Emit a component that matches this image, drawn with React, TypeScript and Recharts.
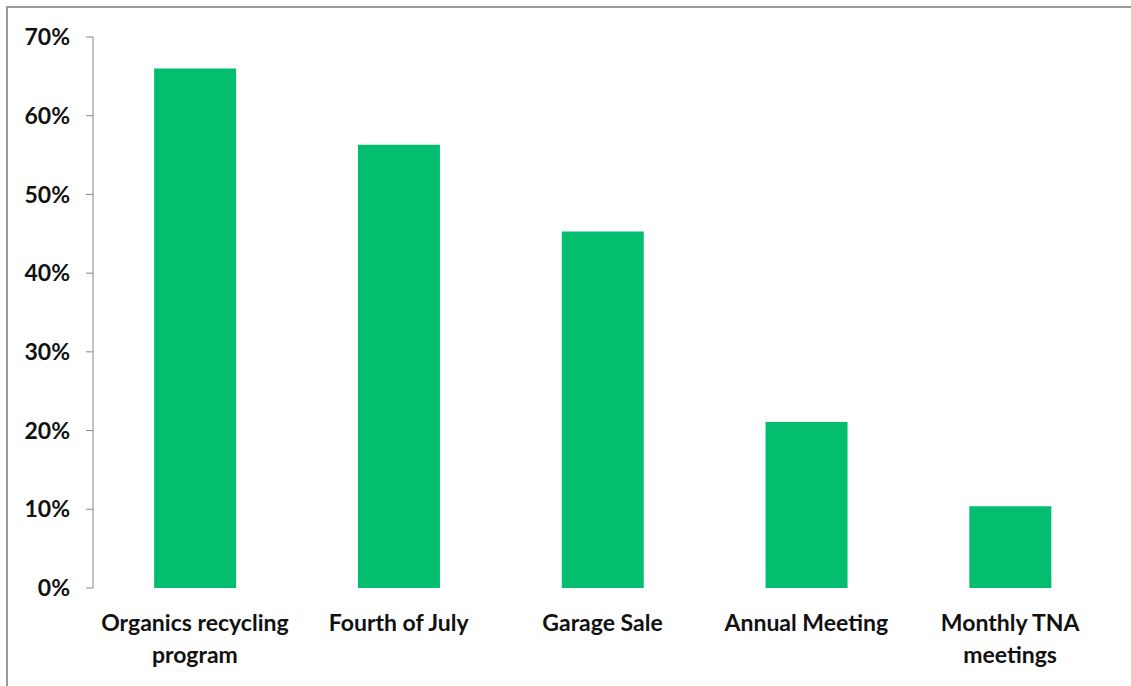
import React from 'react';
import { BarChart, Bar, XAxis, YAxis } from 'recharts';

const categories = [
  'Organics recycling\nprogram',
  'Fourth of July',
  'Garage Sale',
  'Annual Meeting',
  'Monthly TNA\nmeetings',
];
const values = [0.66, 0.563, 0.453, 0.211, 0.104];
const yTicks = [0, 0.1, 0.2, 0.3, 0.4, 0.5, 0.6, 0.7];
const boundaryTicks = [0, 1, 2, 3, 4, 5];

const data = categories.map((c, i) => ({ name: c, value: values[i] }));

const FONT = 'Lato, "Open Sans", sans-serif';

const CatTick = (props: any) => {
  const { x, y, payload } = props;
  const lines = String(payload.value).split('\n');
  return (
    <g transform={`translate(${x},${y})`}>
      <text textAnchor="middle" fontFamily={FONT} fontSize={23} fontWeight={700} fill="#111">
        {lines.map((l, i) => (
          <tspan key={i} x={0} dy={i === 0 ? 35 : 32}>{l}</tspan>
        ))}
      </text>
    </g>
  );
};

export default function App() {
  return (
    <div style={{ position: 'absolute', left: 0, top: 0, width: 1131, height: 686, background: '#fff' }}>
      <div style={{ position: 'absolute', left: 6, top: 6, width: 1125, height: 680, borderTop: '2px solid #9a9a9a', borderLeft: '2px solid #9a9a9a' }} />
      <div style={{ position: 'absolute', left: 0, top: 0 }}>
        <BarChart width={1131} height={686} data={data} margin={{ top: 37, right: 19, left: 0, bottom: 0 }} barCategoryGap="30%">
          <XAxis
            xAxisId="b"
            type="number"
            domain={[0, 5]}
            ticks={boundaryTicks}
            height={0}
            stroke="#888"
            tickSize={7}
            tickFormatter={() => ''}
            allowDataOverflow
          />
          <XAxis
            dataKey="name"
            height={98}
            axisLine={false}
            tickLine={false}
            interval={0}
            tick={<CatTick />}
          />
          <YAxis
            width={93}
            domain={[0, 0.7]}
            ticks={yTicks}
            tickFormatter={(v: number) => `${Math.round(v * 100)}%`}
            stroke="#888"
            tickSize={7}
            tickMargin={16}
            tick={{ fill: '#111', fontFamily: FONT, fontSize: 23, fontWeight: 700 }}
            allowDataOverflow
          />
          <Bar dataKey="value" fill="#02BE6E" isAnimationActive={false} />
        </BarChart>
      </div>
    </div>
  );
}
